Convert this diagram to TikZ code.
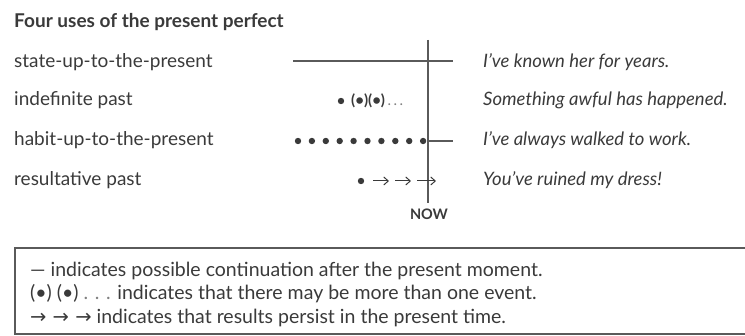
\documentclass[tikz,border=0pt]{standalone}
\usepackage{fontspec}
\setmainfont{Lato}
\newfontfamily\symfont{DejaVu Sans}
\usetikzlibrary{arrows.meta}
\definecolor{ink}{HTML}{3A3A3A}
\definecolor{rulec}{HTML}{5A5A5A}
\begin{document}
\begin{tikzpicture}[x=1pt,y=-1pt,
  title/.style={anchor=base west, inner sep=0pt, font=\fontsize{19}{22}\selectfont\bfseries, text=ink},
  lab/.style={anchor=base west, inner sep=0pt, font=\fontsize{19}{22}\selectfont, text=ink},
  ex/.style={anchor=base west, inner sep=0pt, font=\fontsize{18.5}{22}\selectfont\itshape, text=ink},
  note/.style={anchor=base west, inner sep=0pt, font=\fontsize{19.5}{22}\selectfont, text=ink},
  tl/.style={draw=rulec, line width=1.3pt},
  dot/.style={circle, fill=ink, inner sep=0pt, minimum size=6.4pt},
  arr/.style={draw=ink, line width=1pt, -{Straight Barb[length=4.5pt,width=8pt]}},
  frame/.style={draw=rulec, line width=1.2pt}]
\useasboundingbox (0,0) rectangle (745,336);
% title and labels
\node[title] (t) at (14,28) {Four uses of the present perfect};
\node[lab] (l1) at (14,68) {state-up-to-the-present};
\node[lab] (l2) at (14,106) {indefinite past};
\node[lab] (l3) at (14,146) {habit-up-to-the-present};
\node[lab] (l4) at (14,186) {resultative past};
% examples
\node[ex] (e1) at (483,68) {I’ve known her for years.};
\node[ex] (e2) at (483,106) {Something awful has happened.};
\node[ex] (e3) at (483,146) {I’ve always walked to work.};
\node[ex] (e4) at (483,186) {You’ve ruined my dress!};
% now line
\coordinate (vt) at (428,40);
\coordinate (vb) at (428,203);
\draw[tl] (vt) -- (vb);
\node[anchor=base, inner sep=0pt, font=\fontsize{14.5}{17}\selectfont\bfseries, text=ink] (now) at (429,220) {NOW};
% row 1
\coordinate (r1a) at (293,61);
\coordinate (r1b) at (453,61);
\draw[tl] (r1a) -- (r1b);
% row 2
\node[dot] (d2) at (341,101) {};
\node[anchor=west, inner sep=0pt, font=\fontsize{15}{18}\selectfont\bfseries, text=ink] (p2) at (351,101) {(\textbullet)(\textbullet)\,{\mdseries\color{gray}.\,.\,.}};
% row 3
\foreach \i in {0,...,9} {\node[dot] (d3\i) at ({298+13.9*\i},141) {};}
\coordinate (r3b) at (453,141);
\draw[tl] (vb |- r3b) -- (r3b);
% row 4
\node[dot] (d4) at (361,181) {};
\coordinate (a1) at (373,181); \coordinate (a2) at (389,181);
\coordinate (a3) at (395,181); \coordinate (a4) at (411,181);
\coordinate (a5) at (417,181); \coordinate (a6) at (436,181);
\draw[arr] (a1) -- (a2);
\draw[arr] (a3) -- (a4);
\draw[arr] (a5) -- (a6);
% legend box
\coordinate (b1) at (15,248);
\coordinate (b2) at (760,334);
\draw[frame] (b1) rectangle (b2);
\node[note] (n1) at (30,277) {— indicates possible continuation after the present moment.};
\node[note] (n2) at (30,300) {(\textbullet) (\textbullet) {\color{gray}. . .} indicates that there may be more than one event.};
\node[note] (n3) at (30,324) {{\symfont → → →} indicates that results persist in the present time.};
\end{tikzpicture}
\end{document}
